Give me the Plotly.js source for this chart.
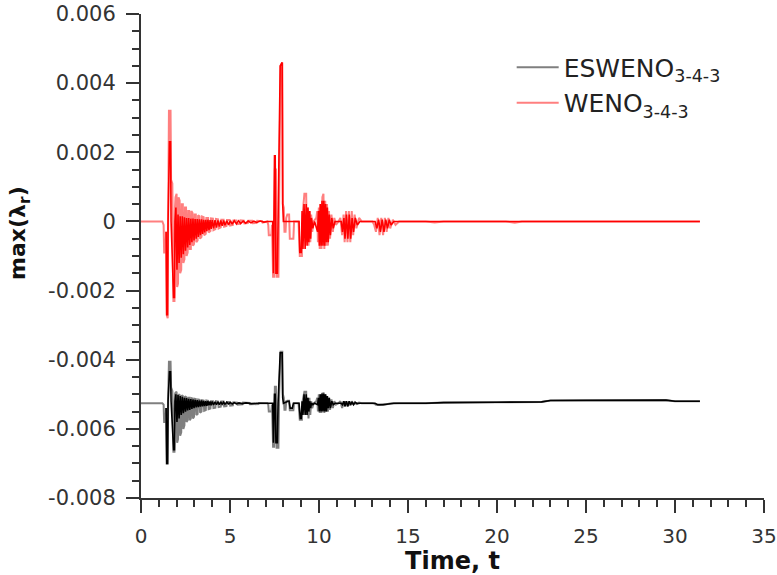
<!DOCTYPE html>
<html>
<head>
<meta charset="utf-8">
<script src="https://cdn.plot.ly/plotly-3.0.1.min.js"></script>
<style>
html,body{margin:0;padding:0;background:#fff;}
#chart{width:777px;height:575px;}
</style>
</head>
<body>
<div id="chart"></div>
<script>
// ---------- WENO(3-4-3): outer (full) oscillation ----------
const wenoT = [0,1.20,1.27,1.30,1.38,1.41,1.44,1.50,1.53,1.57,1.66,1.69,1.76,1.79,1.82,1.88,1.91,1.94,2.00,2.03,2.08,2.11,2.17,2.20,2.26,2.29,2.35,2.38,2.44,2.47,2.53,2.56,2.62,2.65,2.71,2.74,2.80,2.83,2.89,2.92,2.98,3.01,3.08,3.11,3.18,3.21,3.29,3.32,3.40,3.43,3.52,3.55,3.64,3.67,3.77,3.80,3.90,3.93,4.04,4.07,4.18,4.21,4.33,4.36,4.48,4.51,4.64,4.67,4.80,4.83,4.98,5.01,5.16,5.19,5.36,5.39,5.56,5.59,5.78,5.81,6.00,6.03,6.25,6.28,6.50,6.53,6.80,6.83,
7.10,7.15,7.18,7.32,7.36,7.42,7.48,7.52,7.58,7.62,7.72,7.76,7.84,7.94,7.97,8.02,8.06,8.12,8.16,8.22,8.32,8.36,8.56,8.60,8.85,8.92,9.04,9.08,9.18,9.28,9.31,9.36,9.41,9.46,9.51,9.56,9.62,9.70,9.85,9.90,9.94,9.99,10.04,10.09,10.14,10.19,10.25,10.30,10.35,10.40,10.45,10.50,10.56,10.62,10.70,10.78,10.86,10.95,11.10,11.20,11.30,11.38,11.44,11.52,11.60,11.68,11.76,11.84,11.92,12.00,12.10,12.25,12.40,13.00,13.10,13.20,13.30,13.40,13.50,13.60,13.70,13.80,13.90,14.00,14.15,14.30,14.50,16.00,16.50,17.00,20.50,21.00,21.40,31.40];
const wenoV = [0,0,-0.0001,-0.0009,-0.0009,-0.0003,-0.0027,-0.0028,0.0004,0.0032,0.0032,0.0012,0.0011,-0.0004,-0.0023,-0.0023,0.0004,0.0007,0.0008,-0.0019,-0.0018,0.0007,0.0006,-0.0015,-0.0014,0.0005,0.0005,-0.0012,-0.0011,0.0004,0.0004,-0.0010,-0.0009,0.0003,0.0003,-0.0008,-0.0008,0.0003,0.00025,-0.0007,-0.00065,0.0002,0.0002,-0.0006,-0.00055,0.00018,0.00015,-0.0005,-0.00045,0.00014,0.00012,-0.0004,-0.00036,0.0001,0.0001,-0.00032,-0.00028,0.00009,0.00008,-0.00025,-0.00022,0.00007,0.00006,-0.0002,-0.00017,0.00005,0.00005,-0.00015,-0.00013,0.00004,0.00004,-0.00012,-0.0001,0.00003,0.00003,-0.00008,-0.00007,0.00003,0.00002,-0.00006,-0.00005,0.00002,0.00002,-0.00005,-0.00004,0.00002,0.00001,-0.00003,
0,-0.0001,-0.0004,-0.0004,-0.0001,-0.0016,-0.0016,0.0015,0.0015,-0.0016,-0.0016,0.0006,0.0045,0.0046,0.0005,0.0004,-0.0003,-0.0003,0.0001,0.0002,0.0002,-0.0005,-0.0005,0,0,-0.001,-0.001,0.0002,0.0008,0.0008,-0.0006,0.0004,-0.0007,0.0003,-0.0006,0.0002,-0.0003,0,0.0001,0.0003,-0.0006,0.0004,-0.0008,0.0005,-0.0008,0.0007,0.0008,-0.0008,0.0006,-0.0007,0.0005,-0.0007,0.0003,-0.0005,0.0002,-0.0003,0.0001,-0.0001,0,0.0001,-0.0004,0.0002,-0.0006,0.0003,-0.0006,0.0003,-0.0006,0.0003,-0.0004,0.0002,-0.0002,0.0001,0,0,-0.0001,-0.0003,0.0001,-0.0004,0.0001,-0.0004,0.0001,-0.0003,0.0001,-0.0002,0.00005,-0.0001,0,0,-0.00003,0,0,-0.00004,0,0];

// ---------- WENO(3-4-3): dense inner part ----------
const wenoCoreT = [1.41,1.45,1.49,1.52,1.60,1.66,1.69,1.83,1.88,1.91,1.96,2.02,2.08,2.14,2.20,2.26,2.32,2.38,2.44,2.50,2.56,2.62,2.68,2.74,2.80,2.86,2.92,2.98,3.04,3.10,3.16,3.22,3.28,3.34,3.40,3.46,3.52,3.58,3.64,3.70,3.76,3.82,3.88,3.94,4.00,4.08,4.16,4.24,4.32,4.40,4.48,4.56,4.64,4.72,4.82,4.92,5.02,5.12,5.24,5.36,5.48,5.60,5.74,5.88,6.02,6.18,6.34,6.50,6.70,6.90,
7.10,7.40,7.44,7.50,7.54,7.58,7.66,7.70,7.82,7.93,7.96,8.00,8.88,8.92,9.00,9.05,9.10,9.16,9.22,9.28,9.33,9.38,9.43,9.48,9.53,9.58,9.65,9.75,9.92,9.97,10.02,10.07,10.12,10.17,10.22,10.27,10.32,10.37,10.42,10.47,10.52,10.58,10.64,10.72,10.80,10.90,11.25,11.32,11.40,11.46,11.54,11.62,11.70,11.78,11.86,11.94,12.04,12.15,12.30,13.15,13.25,13.35,13.45,13.55,13.65,13.75,13.85,13.95,14.05,14.20,31.40];
const wenoCoreV = [-0.0003,-0.0027,-0.0027,0,0.0023,0.0023,0,-0.0022,-0.0022,0,0.0004,-0.0014,0.0002,-0.0012,0.00015,-0.00105,0.00015,-0.00095,0.00012,-0.00085,0.0001,-0.00075,0.0001,-0.00068,0.00008,-0.0006,0.00008,-0.00055,0.00007,-0.0005,0.00007,-0.00045,0.00006,-0.0004,0.00006,-0.00036,0.00005,-0.00032,0.00005,-0.00028,0.00005,-0.00025,0.00004,-0.00022,0.00004,-0.0002,0.00004,-0.00018,0.00003,-0.00015,0.00003,-0.00013,0.00003,-0.00011,0.00002,-0.0001,0.00002,-0.00008,0.00002,-0.00007,0.00002,-0.00006,0.00001,-0.00005,0.00001,-0.00004,0.00001,-0.00003,0.00001,-0.00002,
0,0,-0.0015,0.0019,0.0019,-0.0015,-0.0015,0,0.0045,0.0046,0.0005,0,0,-0.0009,-0.0009,0.0003,-0.0008,0.0005,-0.0008,0.0005,-0.0007,0.0004,-0.0006,0.0003,-0.0005,0.0001,-0.0002,0,-0.0003,0.0003,-0.0007,0.0005,-0.0007,0.0006,-0.0007,0.0006,-0.0007,0.0005,-0.0006,0.0004,-0.0006,0.0002,-0.0004,0.0001,-0.0002,0,0,-0.0003,0.0001,-0.0005,0.0002,-0.0005,0.0002,-0.0005,0.0001,-0.0003,0.0001,-0.0001,0,0,-0.0002,0.00005,-0.0003,0.00005,-0.0003,0.00005,-0.0002,0.00005,-0.0001,0,0];

// ---------- ESWENO(3-4-3): outer (full) oscillation ----------
const eswenoT = [0,1.20,1.27,1.30,1.38,1.41,1.44,1.50,1.53,1.57,1.66,1.69,1.76,1.79,1.82,1.88,1.91,1.94,2.00,2.03,2.08,2.11,2.17,2.20,2.26,2.29,2.35,2.38,2.44,2.47,2.53,2.56,2.62,2.65,2.71,2.74,2.80,2.83,2.89,2.92,2.98,3.01,3.08,3.11,3.18,3.21,3.29,3.32,3.40,3.43,3.52,3.55,3.64,3.67,3.77,3.80,3.90,3.93,4.04,4.07,4.18,4.21,4.33,4.36,4.48,4.51,4.64,4.67,4.80,4.83,4.98,5.01,5.16,5.19,5.40,5.43,5.70,5.73,6.10,6.13,6.60,6.63,
7.10,7.15,7.18,7.32,7.36,7.42,7.48,7.52,7.58,7.62,7.72,7.76,7.84,7.94,7.97,8.02,8.06,8.12,8.16,8.22,8.32,8.36,8.56,8.60,8.85,8.92,9.04,9.08,9.18,9.28,9.31,9.36,9.41,9.46,9.51,9.56,9.62,9.70,9.85,9.90,9.94,9.99,10.04,10.09,10.14,10.19,10.25,10.30,10.35,10.40,10.45,10.50,10.56,10.62,10.70,10.78,10.86,10.95,11.10,11.20,11.30,11.38,11.44,11.52,11.60,11.68,11.76,11.84,11.92,12.00,12.10,12.25,12.40,13.00,13.10,13.20,13.40,13.60,13.80,14.00,14.50,16.00,17.00,20.00,22.50,23.00,25.00,29.50,30.00,31.40];
const eswenoV = [-0.00526,-0.00526,-0.0053,-0.0058,-0.0058,-0.0054,-0.0070,-0.0070,-0.0050,-0.00406,-0.00406,-0.0048,-0.0049,-0.0054,-0.00666,-0.00666,-0.0050,-0.00495,-0.00493,-0.0064,-0.0063,-0.0050,-0.00502,-0.0062,-0.0061,-0.00503,-0.00505,-0.0060,-0.0059,-0.00506,-0.00508,-0.0058,-0.00575,-0.0051,-0.0051,-0.00575,-0.0057,-0.00511,-0.00512,-0.0057,-0.00565,-0.00513,-0.00514,-0.0056,-0.00557,-0.00515,-0.00516,-0.00553,-0.0055,-0.00517,-0.00518,-0.00548,-0.00546,-0.00518,-0.00519,-0.00543,-0.00541,-0.0052,-0.0052,-0.0054,-0.00539,-0.0052,-0.00521,-0.00537,-0.00536,-0.00521,-0.00521,-0.00535,-0.00534,-0.00522,-0.00522,-0.00533,-0.00532,-0.00523,-0.00524,-0.0053,-0.00529,-0.00524,-0.00525,-0.00529,-0.00528,-0.00525,
-0.00526,-0.0053,-0.0055,-0.0055,-0.0053,-0.00652,-0.00652,-0.00478,-0.00478,-0.00655,-0.00655,-0.0050,-0.00377,-0.00377,-0.0050,-0.0051,-0.00545,-0.00545,-0.0052,-0.00519,-0.00519,-0.00546,-0.00546,-0.00526,-0.00526,-0.00574,-0.00574,-0.0052,-0.00493,-0.00493,-0.0056,-0.0051,-0.0057,-0.0051,-0.0056,-0.0052,-0.0054,-0.00526,-0.0052,-0.0051,-0.0055,-0.0050,-0.00554,-0.0050,-0.00554,-0.00498,-0.00497,-0.00554,-0.0050,-0.0055,-0.00505,-0.0055,-0.0051,-0.00545,-0.00515,-0.0054,-0.0052,-0.0053,-0.00526,-0.0052,-0.0054,-0.0052,-0.00535,-0.0052,-0.00535,-0.0052,-0.00533,-0.0052,-0.0053,-0.00523,-0.00528,-0.00524,-0.00526,-0.00526,-0.00527,-0.0053,-0.00531,-0.0053,-0.00529,-0.00527,-0.00526,-0.00526,-0.00524,-0.00523,-0.00522,-0.00518,-0.00517,-0.00517,-0.0052,-0.0052];

// ---------- ESWENO(3-4-3): dense inner part ----------
const eswenoCoreT = [1.41,1.45,1.49,1.52,1.60,1.66,1.69,1.83,1.88,1.91,1.96,2.02,2.08,2.14,2.20,2.26,2.32,2.38,2.44,2.50,2.56,2.62,2.68,2.74,2.80,2.86,2.92,2.98,3.04,3.10,3.16,3.22,3.28,3.34,3.40,3.46,3.52,3.58,3.64,3.70,3.76,3.82,3.88,3.94,4.00,4.08,4.16,4.24,4.32,4.40,4.48,4.56,4.64,4.72,4.82,4.92,5.02,5.12,5.24,5.36,5.50,5.70,5.90,6.20,6.50,
7.10,7.40,7.44,7.50,7.54,7.58,7.66,7.70,7.82,7.93,7.96,8.00,8.26,8.32,8.38,8.50,8.56,8.88,8.95,9.00,9.05,9.10,9.16,9.22,9.28,9.33,9.38,9.43,9.48,9.53,9.58,9.65,9.75,9.92,9.97,10.02,10.07,10.12,10.17,10.22,10.27,10.32,10.37,10.42,10.47,10.52,10.58,10.64,10.72,10.80,10.90,11.25,11.32,11.40,11.46,11.54,11.62,11.70,11.78,11.86,11.94,12.04,12.15,12.30,13.15,13.30,13.60,13.90,14.20,16.00,17.00,20.00,22.50,23.00,29.50,30.00,31.40];
const eswenoCoreV = [-0.0054,-0.0070,-0.0070,-0.0052,-0.00435,-0.00435,-0.0052,-0.0066,-0.0066,-0.0052,-0.0050,-0.0058,-0.00502,-0.0057,-0.00505,-0.0056,-0.00507,-0.00555,-0.0051,-0.0055,-0.00511,-0.00547,-0.00513,-0.00545,-0.00514,-0.00542,-0.00515,-0.0054,-0.00516,-0.00538,-0.00517,-0.00537,-0.00518,-0.00536,-0.00518,-0.00535,-0.00519,-0.00534,-0.0052,-0.00533,-0.0052,-0.00532,-0.00521,-0.00532,-0.00521,-0.00531,-0.00522,-0.0053,-0.00522,-0.0053,-0.00522,-0.00529,-0.00523,-0.00529,-0.00523,-0.00528,-0.00524,-0.00528,-0.00524,-0.00528,-0.00525,-0.00527,-0.00525,-0.00527,-0.00526,
-0.00526,-0.00526,-0.0064,-0.0050,-0.0050,-0.0064,-0.0064,-0.00526,-0.0038,-0.0038,-0.0051,-0.00526,-0.0052,-0.0052,-0.0054,-0.0054,-0.00526,-0.00526,-0.0057,-0.0057,-0.0052,-0.0056,-0.0050,-0.0056,-0.0050,-0.0056,-0.0051,-0.0055,-0.0052,-0.0054,-0.00525,-0.0053,-0.00526,-0.0053,-0.0051,-0.0055,-0.0050,-0.0055,-0.00498,-0.0055,-0.00498,-0.0055,-0.0050,-0.0055,-0.00505,-0.0054,-0.0051,-0.0054,-0.0052,-0.0053,-0.00526,-0.00526,-0.0053,-0.0052,-0.00535,-0.0052,-0.00535,-0.0052,-0.0053,-0.00522,-0.0053,-0.00523,-0.00527,-0.00526,-0.00526,-0.0053,-0.0053,-0.00528,-0.00526,-0.00526,-0.00524,-0.00523,-0.00522,-0.00518,-0.00517,-0.0052,-0.0052];

// ---------- axis ticks ----------
const yTickVals = [-0.008,-0.006,-0.004,-0.002,0,0.002,0.004,0.006];
const yTickText = ['-0.008','-0.006','-0.004','-0.002','0','0.002','0.004','0.006'];
const xTickVals = [0,5,10,15,20,25,30,35];
const xTickText = ['0','5','10','15','20','25','30','35'];

const FONT = 'DejaVu Sans, Verdana, sans-serif';
const AX = '#333333';

const traces = [
  {x: eswenoT, y: eswenoV, type:'scatter', mode:'lines', name:'ESWENO<sub>3-4-3</sub>',
   line:{color:'rgba(0,0,0,0.5)', width:2, simplify:false}},
  {x: wenoT, y: wenoV, type:'scatter', mode:'lines', name:'WENO<sub>3-4-3</sub>',
   line:{color:'rgba(255,0,0,0.5)', width:2, simplify:false}},
  {x: eswenoCoreT, y: eswenoCoreV, type:'scatter', mode:'lines', showlegend:false, hoverinfo:'skip',
   line:{color:'#000000', width:1.6, simplify:false}},
  {x: wenoCoreT, y: wenoCoreV, type:'scatter', mode:'lines', showlegend:false, hoverinfo:'skip',
   line:{color:'#ff0000', width:1.6, simplify:false}}
];

const layout = {
  width:777, height:575,
  margin:{l:141, r:13, t:14, b:77},
  paper_bgcolor:'#ffffff', plot_bgcolor:'#ffffff',
  font:{family:FONT, color:'#333333'},
  showlegend:true,
  legend:{x:0.595, y:0.937, xanchor:'left', yanchor:'top', bgcolor:'rgba(0,0,0,0)',
          font:{family:FONT, size:25, color:'#222222'}, tracegroupgap:0, itemwidth:42},
  xaxis:{range:[0,35], tickmode:'array', tickvals:xTickVals, ticktext:xTickText,
         showgrid:false, zeroline:false, showline:true, linecolor:AX, linewidth:2,
         ticks:'outside', ticklen:13, tickwidth:2, tickcolor:AX, ticklabelstandoff:6,
         tickfont:{family:FONT, size:20, color:'#333333'},
         minor:{dtick:1, tick0:0, ticks:'outside', ticklen:7, tickwidth:2, tickcolor:AX, showgrid:false},
         title:{text:'Time, t', font:{family:FONT, size:24, color:'#111111', weight:'bold'}, standoff:8}},
  yaxis:{range:[-0.008,0.006], tickmode:'array', tickvals:yTickVals, ticktext:yTickText,
         showgrid:false, zeroline:false, showline:true, linecolor:AX, linewidth:2,
         ticks:'outside', ticklen:13, tickwidth:2, tickcolor:AX, ticklabelstandoff:6,
         tickfont:{family:FONT, size:21, color:'#333333'},
         minor:{dtick:0.0005, tick0:0, ticks:'outside', ticklen:7, tickwidth:2, tickcolor:AX, showgrid:false}},
  annotations:[
    {text:'max(λ<sub>r</sub>)', xref:'paper', yref:'paper', x:-0.194, y:0.548,
     xanchor:'center', yanchor:'middle', textangle:-90, showarrow:false,
     font:{family:FONT, size:22, color:'#111111', weight:'bold'}}
  ]
};

Plotly.newPlot('chart', traces, layout, {displayModeBar:false, staticPlot:true});
</script>
</body>
</html>
